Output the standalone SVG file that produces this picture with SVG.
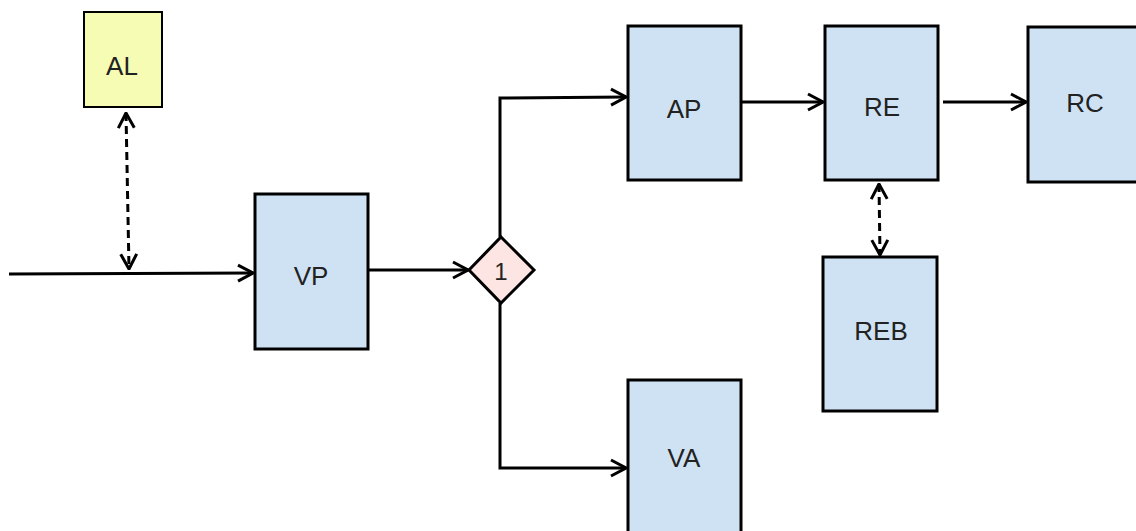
<svg xmlns="http://www.w3.org/2000/svg" width="1136" height="531" viewBox="0 0 1136 531">
<defs>
<style>
.box{fill:#cfe2f3;stroke:#000;stroke-width:3}
.al{fill:#f7fcb5;stroke:#000;stroke-width:2}
.dia{fill:#fce5e3;stroke:#000;stroke-width:3}
.lbl{font-family:"Liberation Sans",Arial,sans-serif;font-size:26px;fill:#222;text-anchor:middle;dominant-baseline:central}
.c{fill:none;stroke:#000;stroke-width:3}
.d{fill:none;stroke:#000;stroke-width:3;stroke-dasharray:8,5}
</style>
<marker id="ah" viewBox="0 0 18 20" refX="17" refY="10" markerWidth="18" markerHeight="20" markerUnits="userSpaceOnUse" orient="auto-start-reverse">
<path d="M2,2 L17,10 L2,18" fill="none" stroke="#000" stroke-width="3"/>
</marker>
</defs>
<rect width="1136" height="531" fill="#fff"/>
<g id="connectors">
<path class="c" d="M9,274 L253,273" marker-end="url(#ah)"/>
<path class="d" d="M126,113 L129,269" marker-start="url(#ah)" marker-end="url(#ah)"/>
<path class="c" d="M368,270 L468,270" marker-end="url(#ah)"/>
<path class="c" d="M500,237 L500,98 L626,97" marker-end="url(#ah)"/>
<path class="c" d="M500,303 L500,468 L626,468" marker-end="url(#ah)"/>
<path class="c" d="M741,102 L823,102" marker-end="url(#ah)"/>
<path class="c" d="M943,102 L1026,102" marker-end="url(#ah)"/>
<path class="d" d="M879,184 L880,255" marker-start="url(#ah)" marker-end="url(#ah)"/>
</g>
<g id="AL"><rect class="al" x="84" y="12" width="78" height="95"/><text class="lbl" x="122" y="66">AL</text></g>
<g id="VP"><rect class="box" x="255" y="194" width="113" height="155"/><text class="lbl" x="311" y="276">VP</text></g>
<g id="D1"><path class="dia" d="M501,237 L534,270 L501,303 L469,270 Z"/><text class="lbl" x="501" y="271" style="font-size:24px">1</text></g>
<g id="AP"><rect class="box" x="628" y="26" width="113" height="154"/><text class="lbl" x="684" y="109">AP</text></g>
<g id="RE"><rect class="box" x="825" y="26" width="113" height="154"/><text class="lbl" x="882" y="107">RE</text></g>
<g id="RC"><rect class="box" x="1028" y="27" width="113" height="155"/><text class="lbl" x="1085" y="103">RC</text></g>
<g id="REB"><rect class="box" x="823" y="257" width="114" height="154"/><text class="lbl" x="881" y="331">REB</text></g>
<g id="VA"><rect class="box" x="628" y="380" width="113" height="160"/><text class="lbl" x="684" y="458">VA</text></g>
</svg>
